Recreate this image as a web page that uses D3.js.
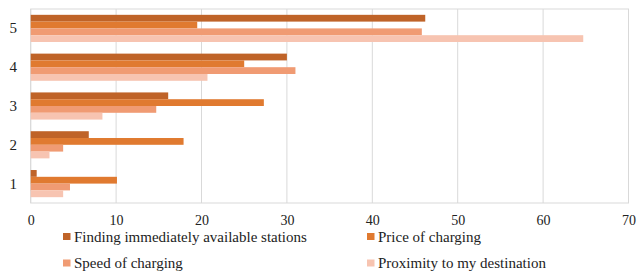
<!DOCTYPE html>
<html>
<head>
<meta charset="utf-8">
<script src="https://cdn.jsdelivr.net/npm/d3@7"></script>
<style>
  body { margin: 0; background: #fff; }
</style>
</head>
<body>
<svg id="chart" width="637" height="273"></svg>
<script>
// ratings (1..5) drawn top-down from 5 to 1
const categories = ["5", "4", "3", "2", "1"];
const seriesNames = [
  "Finding immediately available stations",
  "Price of charging",
  "Speed of charging",
  "Proximity to my destination"
];
const finding   = [46.2, 30.0, 16.1, 6.8, 0.7];
const price     = [19.5, 25.0, 27.3, 17.9, 10.1];
const speed     = [45.8, 31.0, 14.7, 3.8, 4.6];
const proximity = [64.7, 20.7, 8.4, 2.2, 3.8];
const xTicks = [0, 10, 20, 30, 40, 50, 60, 70];
const colors = ["#BF6328", "#E07A30", "#F09B73", "#F7C4B1"];

const series = [finding, price, speed, proximity];
const FONT = "'Liberation Serif'";

const svg = d3.select("#chart");
const plotLeft = 30.7, plotRight = 628.5, plotTop = 9, plotBottom = 203;

const x = d3.scaleLinear().domain([0, 70]).range([plotLeft, plotRight]);
const y = d3.scaleBand().domain(categories).range([plotTop, plotBottom]).paddingInner(0.3).paddingOuter(0.15);
const sub = d3.scaleBand().domain(d3.range(series.length)).range([0, y.bandwidth()]);

// gridlines
svg.append("g")
  .selectAll("line")
  .data(xTicks)
  .enter().append("line")
  .attr("x1", d => x(d)).attr("x2", d => x(d))
  .attr("y1", plotTop).attr("y2", plotBottom)
  .attr("stroke", "#d9d9d9").attr("stroke-width", 1);

// frame
svg.append("rect")
  .attr("x", plotLeft).attr("y", plotTop)
  .attr("width", plotRight - plotLeft).attr("height", plotBottom - plotTop)
  .attr("fill", "none").attr("stroke", "#d9d9d9");

// bars
const groups = svg.append("g").selectAll("g")
  .data(categories)
  .enter().append("g")
  .attr("transform", d => `translate(0,${y(d)})`);

groups.selectAll("rect")
  .data((c, i) => series.map((s, k) => ({ k, v: s[i] })))
  .enter().append("rect")
  .attr("x", x(0))
  .attr("y", d => sub(d.k))
  .attr("width", d => x(d.v) - x(0))
  .attr("height", sub.bandwidth())
  .attr("fill", d => colors[d.k]);

// y labels
svg.append("g").selectAll("text")
  .data(categories)
  .enter().append("text")
  .attr("x", 13.3)
  .attr("y", d => y(d) + y.bandwidth() / 2 + 5)
  .attr("text-anchor", "middle")
  .style("font-family", FONT)
  .style("font-size", "15px")
  .style("fill", "#222")
  .text(d => d);

// x axis labels
const xAxis = d3.axisBottom(x).tickValues(xTicks).tickSize(0).tickPadding(12);
const xg = svg.append("g").attr("transform", `translate(0,${plotBottom})`).call(xAxis);
xg.select(".domain").remove();
xg.selectAll("text")
  .attr("y", 22).attr("dy", null)
  .style("font-family", FONT)
  .style("font-size", "14px")
  .style("fill", "#222");

// legend
const legendPos = [[63, 236.5], [367, 236.5], [63, 263], [367, 263]];
const legend = svg.append("g").selectAll("g")
  .data(seriesNames)
  .enter().append("g")
  .attr("transform", (d, i) => `translate(${legendPos[i][0]},${legendPos[i][1]})`);
legend.append("rect")
  .attr("x", 0).attr("y", -3.5)
  .attr("width", 7.5).attr("height", 7)
  .attr("fill", (d, i) => colors[i]);
legend.append("text")
  .attr("x", 11).attr("y", 5)
  .style("font-family", FONT)
  .style("font-size", "15px")
  .style("fill", "#222")
  .text(d => d);
</script>
</body>
</html>
